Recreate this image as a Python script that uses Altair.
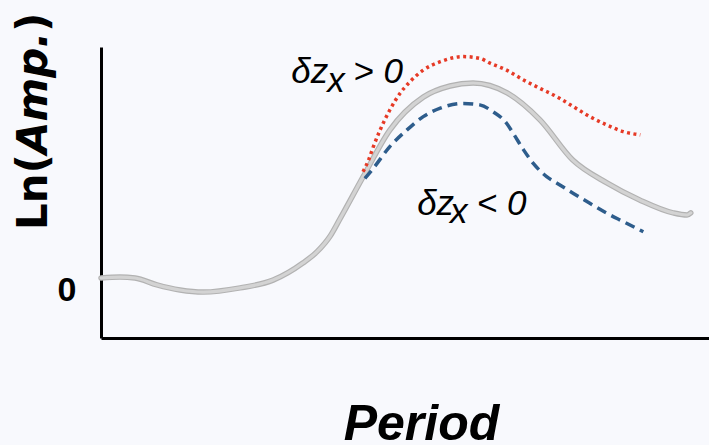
import altair as alt
import pandas as pd

# Reference response curve (grey)
base_x = [0.00, 0.31, 0.56, 0.92, 1.30, 1.68, 2.29, 2.83, 3.32, 3.55, 3.77, 3.93,
          4.31, 4.75, 5.30, 5.74, 6.12, 6.68, 7.22, 7.76, 8.32, 8.86, 9.41, 9.64, 9.70]
base_y = [0.00, 0.03, 0.00, -0.23, -0.40, -0.47, -0.33, -0.07, 0.50, 0.87, 1.40, 1.97,
          3.37, 4.93, 6.03, 6.40, 6.50, 6.17, 5.27, 3.93, 3.17, 2.60, 2.17, 2.10, 2.17]

# Positive perturbation (red, dotted)
pos_x = [4.31, 4.40, 4.48, 4.59, 4.75, 4.92, 5.08, 5.30, 5.58, 5.96, 6.23, 6.40,
         6.67, 6.95, 7.22, 7.50, 7.77, 8.04, 8.32, 8.59, 8.87]
pos_y = [3.54, 3.93, 4.38, 4.93, 5.60, 6.16, 6.54, 6.93, 7.21, 7.38, 7.32, 7.16,
         6.93, 6.60, 6.32, 6.04, 5.71, 5.38, 5.10, 4.88, 4.77]

# Negative perturbation (blue, dashed)
neg_x = [4.34, 4.48, 4.75, 5.03, 5.30, 5.58, 5.96, 6.23, 6.45, 6.67, 6.78, 6.95,
         7.11, 7.33, 7.50, 7.77, 8.04, 8.32, 8.59, 8.92]
neg_y = [3.32, 3.66, 4.38, 4.93, 5.38, 5.66, 5.82, 5.77, 5.54, 5.16, 4.82, 4.27,
         3.82, 3.38, 3.16, 2.82, 2.49, 2.16, 1.88, 1.54]

# Curve annotations: main text pieces and their subscripts
note_text = ["δz", "x", "> 0", "δz", "x", "< 0"]
note_x = [3.13, 3.72, 4.15, 5.20, 5.74, 6.18]
note_y = [6.50, 6.20, 6.50, 2.10, 1.83, 2.10]

FONT = "Liberation Sans"
W, H = 608, 291

x_enc = alt.X("x:Q",
              scale=alt.Scale(domain=[0, 10], nice=False, zero=False),
              axis=alt.Axis(title="Period", labels=False, ticks=False, grid=False,
                            domainColor="#000000", domainWidth=3,
                            titleFont=FONT, titleFontSize=50, titleFontWeight="bold",
                            titleFontStyle="italic", titleColor="#000000",
                            titleX=320, titleY=101, titleAlign="center",
                            titleBaseline="alphabetic"))
y_enc = alt.Y("y:Q",
              scale=alt.Scale(domain=[-2.0, 7.7], nice=False, zero=False),
              axis=alt.Axis(title=None, values=[0], ticks=False, grid=False,
                            domainColor="#000000", domainWidth=3,
                            labelFont=FONT, labelFontSize=34, labelFontWeight="bold",
                            labelColor="#000000", labelPadding=25,
                            labelBaseline="middle", labelOffset=12))

base_df = pd.DataFrame({"x": base_x, "y": base_y})
pos_df = pd.DataFrame({"x": pos_x, "y": pos_y})
neg_df = pd.DataFrame({"x": neg_x, "y": neg_y})
note_df = pd.DataFrame({"x": note_x, "y": note_y, "t": note_text})

base_edge = alt.Chart(base_df).mark_line(
    interpolate="monotone", color="#b2b2b2", strokeWidth=5.5, strokeCap="round"
).encode(x=x_enc, y=y_enc)
base_core = alt.Chart(base_df).mark_line(
    interpolate="monotone", color="#d3d3d3", strokeWidth=3.2, strokeCap="round"
).encode(x=x_enc, y=y_enc)

pos_line = alt.Chart(pos_df).mark_line(
    interpolate="monotone", color="#e63a26", strokeWidth=3.5, strokeDash=[3, 3.5]
).encode(x=x_enc, y=y_enc)
neg_line = alt.Chart(neg_df).mark_line(
    interpolate="monotone", color="#2e5d8c", strokeWidth=3.5, strokeDash=[10, 6]
).encode(x=x_enc, y=y_enc)

notes = alt.Chart(note_df).mark_text(
    font=FONT, fontSize=35, fontStyle="italic", color="#000000",
    align="left", baseline="alphabetic"
).encode(x=x_enc, y=y_enc, text="t:N")

# Vertical axis title with mixed upright / italic parts
YT_FONT = "DejaVu Sans"
yt_parts = [("Ln(", "normal", 183.0), ("Amp.", "italic", 107.1), (")", "normal", -15.2)]
ytitle = []
for txt, style, ypos in yt_parts:
    ytitle.append(
        alt.Chart(pd.DataFrame({"t": [txt]})).mark_text(
            font=YT_FONT, fontSize=42, fontWeight="bold", fontStyle=style,
            color="#000000", angle=270, align="left", baseline="alphabetic"
        ).encode(text="t:N", x=alt.value(-54), y=alt.value(ypos))
    )

chart = alt.layer(base_edge, base_core, pos_line, neg_line, notes, *ytitle).properties(
    width=W, height=H,
    autosize=alt.AutoSizeParams(type="none"),
    padding={"left": 101, "top": 47, "right": 0, "bottom": 107},
    background="#f8f9fd",
).configure_view(stroke=None)

chart.save("out.html", embed_options={"renderer": "svg", "actions": False})
